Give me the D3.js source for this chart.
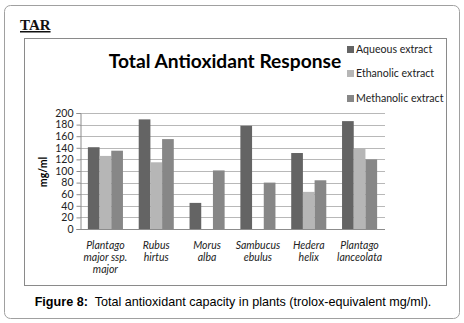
<!DOCTYPE html>
<html>
<head>
<meta charset="utf-8">
<script src="https://cdn.jsdelivr.net/npm/d3@7"></script>
<style>
  body { margin: 0; background: #fff; }
  svg { display: block; }
</style>
</head>
<body>
<script>
// data
var plants = [
  ['Plantago', 'major ssp.', 'major'],
  ['Rubus', 'hirtus'],
  ['Morus', 'alba'],
  ['Sambucus', 'ebulus'],
  ['Hedera', 'helix'],
  ['Plantago', 'lanceolata']
];
var seriesNames = ['Aqueous extract', 'Ethanolic extract', 'Methanolic extract'];
var aqueous = [141, 189, 45, 178, 131, 186];
var ethanolic = [126, 115, 0, 0, 64, 139];
var methanolic = [135, 155, 101, 80, 84, 120];
var yTicks = [0, 20, 40, 60, 80, 100, 120, 140, 160, 180, 200];

var series = [aqueous, ethanolic, methanolic];
var colors = ['#646464', '#b6b6b6', '#878787'];

var width = 464, height = 323;

var svg = d3.select('body').append('svg')
  .attr('width', width)
  .attr('height', height);

// outer rounded frame
svg.append('rect')
  .attr('x', 4.5).attr('y', 5.5)
  .attr('width', 455).attr('height', 313)
  .attr('rx', 6)
  .attr('fill', '#fff')
  .attr('stroke', '#a0a0a0');

// heading
svg.append('text')
  .attr('x', 20).attr('y', 30)
  .attr('font-family', 'Liberation Serif, serif')
  .attr('font-weight', 'bold')
  .attr('font-size', 15)
  .attr('fill', '#111')
  .attr('text-decoration', 'underline')
  .text('TAR');

// chart frame
svg.append('rect')
  .attr('x', 24.5).attr('y', 38.5)
  .attr('width', 422).attr('height', 247)
  .attr('fill', '#fff')
  .attr('stroke', '#8a8a8a');

svg.append('text')
  .attr('x', 225).attr('y', 68)
  .attr('text-anchor', 'middle')
  .attr('font-family', 'Lato, sans-serif')
  .attr('font-weight', 'bold')
  .attr('font-size', 19.2)
  .attr('fill', '#000')
  .text('Total Antioxidant Response');

var x0 = d3.scaleBand()
  .domain(d3.range(plants.length))
  .range([80, 385])
  .paddingInner(0.31)
  .paddingOuter(0.155);

var x1 = d3.scaleBand()
  .domain(d3.range(series.length))
  .range([0, x0.bandwidth()]);

var y = d3.scaleLinear()
  .domain([0, 200])
  .range([229, 113]);

// grid lines
svg.append('g')
  .selectAll('line')
  .data(yTicks)
  .enter().append('line')
  .attr('x1', 80).attr('x2', 385)
  .attr('y1', function (d) { return Math.round(y(d)) + 0.5; })
  .attr('y2', function (d) { return Math.round(y(d)) + 0.5; })
  .attr('stroke', function (d) { return d === 0 ? '#8c8c8c' : '#b8b8b8'; });

var yAxis = svg.append('g')
  .attr('transform', 'translate(80.5,0)')
  .call(d3.axisLeft(y).tickValues(yTicks).tickSize(4).tickPadding(3));
yAxis.select('.domain').attr('stroke', '#8c8c8c');
yAxis.selectAll('.tick line').attr('stroke', '#8c8c8c');
yAxis.selectAll('.tick text')
  .attr('font-family', 'Lato, sans-serif')
  .attr('font-size', 10.5)
  .attr('fill', '#222');

svg.append('text')
  .attr('transform', 'translate(47,172) rotate(-90)')
  .attr('text-anchor', 'middle')
  .attr('font-family', 'Lato, sans-serif')
  .attr('font-weight', 'bold')
  .attr('font-size', 10.5)
  .text('mg/ml');

// bars
var groups = svg.append('g')
  .selectAll('g')
  .data(plants)
  .enter().append('g')
  .attr('transform', function (d, i) { return 'translate(' + x0(i) + ',0)'; });

groups.selectAll('rect')
  .data(function (d, i) { return series.map(function (s, k) { return { k: k, v: s[i] }; }); })
  .enter().append('rect')
  .filter(function (d) { return d.v > 0; })
  .attr('x', function (d) { return x1(d.k); })
  .attr('y', function (d) { return y(d.v); })
  .attr('width', x1.bandwidth())
  .attr('height', function (d) { return y(0) - y(d.v); })
  .attr('fill', function (d) { return colors[d.k]; });

// category labels
groups.append('text')
  .attr('text-anchor', 'middle')
  .attr('font-family', 'Lato, sans-serif')
  .attr('font-style', 'italic')
  .attr('font-size', 10.5)
  .attr('fill', '#222')
  .selectAll('tspan')
  .data(function (d) { return d; })
  .enter().append('tspan')
  .attr('x', x0.bandwidth() / 2)
  .attr('y', function (d, j) { return 249 + j * 12; })
  .text(function (d) { return d; });

// legend
var legend = svg.append('g')
  .selectAll('g')
  .data(seriesNames)
  .enter().append('g')
  .attr('transform', function (d, i) { return 'translate(347,' + [52, 76, 101][i] + ')'; });

legend.append('rect')
  .attr('x', 0).attr('y', -6)
  .attr('width', 7).attr('height', 7)
  .attr('fill', function (d, i) { return colors[i]; });

legend.append('text')
  .attr('x', 9).attr('y', 1)
  .attr('font-family', 'Lato, sans-serif')
  .attr('font-size', 10.6)
  .attr('fill', '#222')
  .text(function (d) { return d; });

// caption
var cap = svg.append('text')
  .attr('x', 233).attr('y', 306)
  .attr('text-anchor', 'middle')
  .attr('font-family', 'Liberation Sans, Arial, sans-serif')
  .attr('font-size', 12.6)
  .attr('fill', '#000');
cap.append('tspan').attr('font-weight', 'bold').text('Figure 8:');
cap.append('tspan').attr('xml:space', 'preserve').text('\u00a0 Total antioxidant capacity in plants (trolox-equivalent mg/ml).');
</script>
</body>
</html>
